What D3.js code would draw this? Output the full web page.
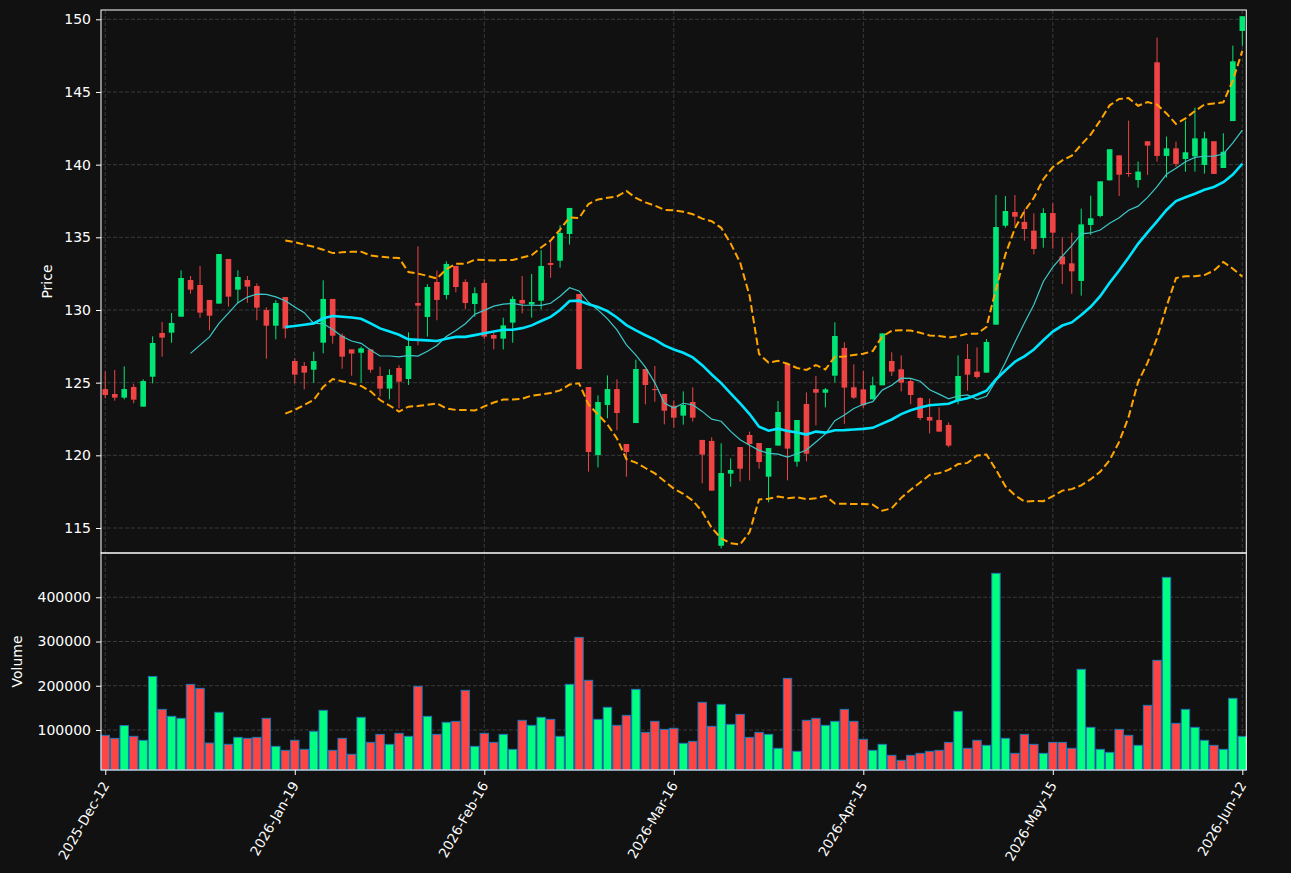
<!DOCTYPE html>
<html>
<head>
<meta charset="utf-8">
<script src="https://cdn.jsdelivr.net/npm/d3@7/dist/d3.min.js"></script>
<style>
  html, body { margin: 0; padding: 0; background: #111111; }
  svg { display: block; }
  text { font-family: "DejaVu Sans", sans-serif; }
</style>
</head>
<body>
<svg id="chart" width="1291" height="873"></svg>
<script>
// ---------------- DATA ----------------
const opens = [124.56,124.22,123.97,124.70,123.35,125.41,128.42,128.44,129.54,132.06,
131.72,130.69,130.44,133.51,131.40,132.06,131.65,130.00,128.92,130.89,
126.49,126.15,125.89,127.75,130.76,128.23,127.29,127.06,127.29,125.46,
124.59,126.01,125.25,130.48,129.52,131.93,131.03,133.03,131.93,130.41,
131.86,128.28,128.03,129.13,130.69,130.37,130.64,133.23,133.39,135.23,
131.10,124.70,120.02,123.46,124.56,120.78,122.22,125.94,124.56,124.22,
123.42,122.73,123.67,121.06,120.99,113.78,118.74,120.57,121.40,120.85,
118.53,120.67,126.28,119.56,123.53,124.56,124.31,125.48,127.39,124.68,
124.54,123.85,124.82,126.49,125.92,125.11,123.94,122.64,122.43,122.09,
123.76,126.63,125.76,125.69,128.99,135.80,136.74,136.06,135.46,134.95,
136.67,133.69,133.21,132.00,135.85,136.47,138.92,140.64,139.43,138.94,
141.61,147.04,140.60,141.12,140.39,140.57,139.98,141.61,139.77,143.00,149.20];
const highs = [125.78,125.87,126.12,124.91,125.23,128.19,129.17,129.79,132.73,132.34,
133.03,130.69,133.85,133.51,132.73,132.34,131.83,130.18,130.67,130.89,
126.67,126.42,127.13,132.04,130.76,128.39,127.29,127.48,127.29,126.10,
125.92,126.19,128.46,134.38,131.77,132.71,133.35,133.03,132.11,131.56,
132.11,128.46,129.47,130.94,132.34,132.48,134.11,134.77,135.83,137.02,
131.10,124.70,124.13,125.50,125.23,120.78,126.58,125.94,126.15,124.22,
123.76,124.40,124.68,121.06,121.24,120.83,119.79,120.57,121.63,120.85,
120.50,123.74,126.28,122.43,124.33,125.46,124.63,129.15,127.78,126.26,
125.80,125.41,128.39,127.09,126.88,125.25,124.01,123.90,123.30,122.27,
126.88,127.66,127.43,128.00,137.91,137.84,137.91,136.95,136.65,137.00,
137.34,134.98,135.32,136.97,137.87,138.85,141.06,140.64,143.03,140.21,
141.61,148.74,141.93,141.58,143.03,143.92,142.27,141.61,142.16,148.19,150.21];
const lows = [123.92,123.76,123.85,123.58,123.35,124.95,126.79,127.75,129.54,131.12,
129.47,128.60,130.44,130.23,130.46,130.50,129.29,126.65,127.98,128.05,
124.95,124.54,125.00,127.02,127.68,125.96,125.48,125.00,125.69,124.04,
123.85,123.23,124.84,127.57,128.17,129.29,130.73,131.22,130.05,129.54,
128.00,127.29,127.29,127.75,129.77,129.47,130.05,132.22,132.91,134.50,
125.87,118.88,119.17,122.55,121.72,118.53,122.22,123.51,123.69,122.13,
121.90,122.11,122.32,118.07,117.57,113.60,117.84,118.19,118.28,119.08,
116.77,120.67,118.28,119.22,119.59,122.06,123.30,125.02,122.16,123.88,
123.26,123.85,124.82,125.46,124.40,123.51,122.43,121.51,121.63,120.55,
123.51,124.45,125.28,125.69,128.99,135.67,135.80,134.77,133.83,134.29,
134.22,131.79,131.12,130.99,135.16,136.38,138.92,137.84,139.17,138.42,
139.29,140.21,139.11,139.86,139.52,139.52,139.38,139.36,139.77,143.00,148.17];
const closes = [124.15,123.97,124.56,123.83,125.11,127.73,128.10,129.11,132.20,131.40,
129.82,129.61,133.85,130.92,132.27,131.61,130.16,128.92,130.48,128.72,
125.55,125.69,126.49,130.76,128.23,126.79,127.00,127.36,125.89,124.59,
125.53,125.07,127.52,130.30,131.58,130.69,133.17,131.58,130.48,131.15,
128.17,128.03,128.94,130.76,130.44,130.55,133.03,133.10,135.30,137.02,
125.94,120.23,123.67,124.56,122.91,120.23,125.94,124.84,124.54,123.07,
122.59,123.46,122.59,120.05,117.57,118.78,118.99,119.08,120.78,119.54,
120.50,122.98,120.46,122.43,120.11,124.31,124.54,128.21,124.66,123.97,
123.44,124.82,128.39,125.76,125.00,124.15,122.57,122.39,121.63,120.67,
125.46,125.55,125.39,127.80,135.71,136.81,136.42,135.57,134.20,136.67,
135.32,133.14,132.66,135.89,136.31,138.85,141.06,139.31,139.38,139.52,
141.31,140.60,141.12,140.05,140.85,141.81,141.81,139.36,140.89,147.11,150.21];
const volumes = [87900,81000,110000,85600,76600,221000,146600,130800,126300,203000,
194000,70500,139900,67500,83300,81000,83300,126300,63000,54000,
76600,56200,96900,144400,54000,81000,45000,128600,72000,90000,
67500,92400,85600,198600,130800,90100,117300,119500,189600,63000,
92400,72000,90100,56200,121800,110500,128600,124000,85600,203200,
309400,212200,124000,151200,110500,133100,191900,94600,119500,101400,
103700,69800,74300,162500,108200,157900,112700,135300,83300,94600,
90100,58500,216700,51700,121800,126300,110500,119500,146600,119500,
78800,54000,67500,42700,31400,42700,47200,51700,54000,72000,
142100,58500,76600,65300,454100,81100,47200,90100,67500,47200,
72000,72000,58500,237100,105900,56200,49400,101400,87900,65300,
155700,257400,445000,115000,146600,105900,76600,65300,56200,171500,85600];
const xTickLabels = ["2025-Dec-12","2026-Jan-19","2026-Feb-16","2026-Mar-16","2026-Apr-15","2026-May-15","2026-Jun-12"];
const priceTicks = [115,120,125,130,135,140,145,150];
const volumeTicks = [100000,200000,300000,400000];

// ---------------- LAYOUT ----------------
const L = 101, R = 1246.3, T = 10, MID = 553, B = 770;
const n = closes.length;
const svg = d3.select("#chart");
svg.append("rect").attr("width",1291).attr("height",873).attr("fill","#111111");

const x = d3.scaleLinear().domain([-0.45, n - 1 + 0.42]).range([L, R]);
const yP = d3.scaleLinear().domain([113.28, 150.64]).range([MID, T]);
const yV = d3.scaleLinear().domain([9500, 500100]).range([B, MID]);

const bars = d3.range(n).map(i => ({i, o: opens[i], h: highs[i], l: lows[i], c: closes[i], v: volumes[i], up: closes[i] >= opens[i]}));
const tickIdx = xTickLabels.map((_, k) => k * 20);

// grid
const grid = svg.append("g").attr("stroke","#3a3a3a").attr("stroke-width",1).attr("stroke-dasharray","4,2");
tickIdx.forEach(t => {
  grid.append("line").attr("x1",x(t)).attr("x2",x(t)).attr("y1",T).attr("y2",B);
});
priceTicks.forEach(p => grid.append("line").attr("x1",L).attr("x2",R).attr("y1",yP(p)).attr("y2",yP(p)));
volumeTicks.forEach(v => grid.append("line").attr("x1",L).attr("x2",R).attr("y1",yV(v)).attr("y2",yV(v)));

// candles
const upC = "#00e676", dnC = "#ef4444";
const bw = 5.6;
const cg = svg.append("g");
cg.selectAll("line.wick").data(bars).join("line")
  .attr("x1", d => x(d.i)).attr("x2", d => x(d.i))
  .attr("y1", d => yP(d.h)).attr("y2", d => yP(d.l))
  .attr("stroke", d => d.up ? upC : dnC).attr("stroke-width", 1);
cg.selectAll("rect.body").data(bars).join("rect")
  .attr("x", d => x(d.i) - bw/2).attr("width", bw)
  .attr("y", d => yP(Math.max(d.o, d.c)))
  .attr("height", d => Math.max(1, Math.abs(yP(d.o) - yP(d.c))))
  .attr("fill", d => d.up ? upC : dnC);

// indicators derived from closes
function sma(arr, w) {
  return arr.map((_, i) => i < w - 1 ? null : d3.mean(arr.slice(i - w + 1, i + 1)));
}
function sd(arr, w) {
  return arr.map((_, i) => {
    if (i < w - 1) return null;
    const s = arr.slice(i - w + 1, i + 1), m = d3.mean(s);
    return Math.sqrt(d3.sum(s, v => (v - m) * (v - m)) / w);
  });
}
const ma10 = sma(closes, 10), ma20 = sma(closes, 20), sd20 = sd(closes, 20);
const upper = ma20.map((m, i) => m == null ? null : m + 2 * sd20[i]);
const lower = ma20.map((m, i) => m == null ? null : m - 2 * sd20[i]);
const line = d3.line().defined(d => d[1] != null).x(d => x(d[0])).y(d => yP(d[1]));
const toPts = a => a.map((v, i) => [i, v]);

svg.append("path").attr("d", line(toPts(ma10))).attr("fill","none").attr("stroke","#3cc8c8").attr("stroke-width",1.2);
svg.append("path").attr("d", line(toPts(ma20))).attr("fill","none").attr("stroke","#00e5ff").attr("stroke-width",2.6);
[upper, lower].forEach(b => svg.append("path").attr("d", line(toPts(b))).attr("fill","none")
  .attr("stroke","#ffa500").attr("stroke-width",2).attr("stroke-dasharray","7.5,3.5"));

// volume bars
const vw = 8.4;
svg.append("g").selectAll("rect").data(bars).join("rect")
  .attr("x", d => x(d.i) - vw/2).attr("width", vw)
  .attr("y", d => yV(d.v)).attr("height", d => B - yV(d.v))
  .attr("fill", d => d.up ? "#00ff80" : "#ff4444")
  .attr("stroke", "#1f77b4").attr("stroke-width", 1);

// frames
svg.append("rect").attr("x",L).attr("y",T).attr("width",R-L).attr("height",MID-T).attr("fill","none").attr("stroke","#ffffff").attr("stroke-width",1);
svg.append("rect").attr("x",L).attr("y",MID).attr("width",R-L).attr("height",B-MID).attr("fill","none").attr("stroke","#ffffff").attr("stroke-width",1);

// axes
function styleAxis(g) {
  g.select(".domain").remove();
  g.selectAll(".tick line").attr("stroke","#ffffff");
  g.selectAll(".tick text").attr("fill","#ffffff").style("font-size","14px").style("font-family","DejaVu Sans");
}
svg.append("g").attr("transform",`translate(${L},0)`)
  .call(d3.axisLeft(yP).tickValues(priceTicks).tickFormat(d3.format("d")).tickSize(5).tickPadding(5)).call(styleAxis);
svg.append("g").attr("transform",`translate(${L},0)`)
  .call(d3.axisLeft(yV).tickValues(volumeTicks).tickFormat(d3.format("d")).tickSize(5).tickPadding(5)).call(styleAxis);

const xa = svg.append("g").attr("transform",`translate(0,${B})`)
  .call(d3.axisBottom(x).tickValues(tickIdx).tickFormat((d, k) => xTickLabels[k]).tickSize(5).tickPadding(5));
xa.select(".domain").remove();
xa.selectAll(".tick line").attr("stroke","#ffffff");
xa.selectAll(".tick text").attr("fill","#ffffff").style("font-size","13.5px")
  .attr("text-anchor","end").attr("dy",null).attr("y",null)
  .attr("transform","translate(4,15) rotate(-60)");

// axis labels
svg.append("text").attr("transform",`translate(52,${(T+MID)/2}) rotate(-90)`).attr("text-anchor","middle")
  .attr("fill","#ffffff").style("font-size","14px").text("Price");
svg.append("text").attr("transform",`translate(22,${(MID+B)/2}) rotate(-90)`).attr("text-anchor","middle")
  .attr("fill","#ffffff").style("font-size","14px").text("Volume");
</script>
</body>
</html>
